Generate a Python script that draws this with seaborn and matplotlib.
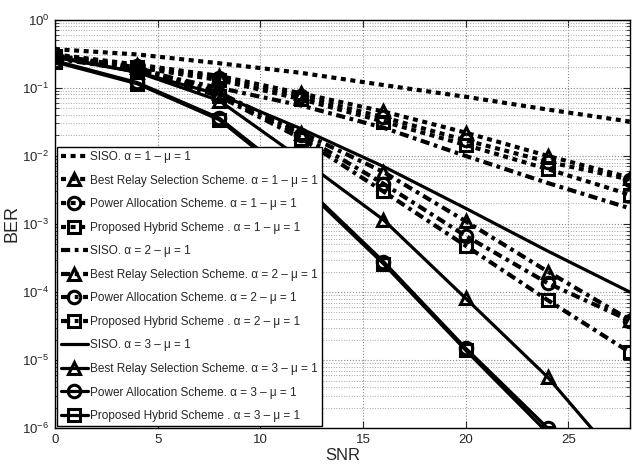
import numpy as np
import pandas as pd
import matplotlib
matplotlib.use("Agg")
import matplotlib.pyplot as plt
import seaborn as sns

snr = [0, 4, 8, 12, 16, 20, 24, 28]

# alpha = 1
siso_a1 = [0.37, 0.31, 0.23, 0.166, 0.11, 0.074, 0.048, 0.032]
brs_a1 = [0.31, 0.22, 0.15, 0.083, 0.045, 0.022, 0.0100, 0.0048]
pa_a1 = [0.30, 0.21, 0.14, 0.075, 0.037, 0.017, 0.0082, 0.0045]
ph_a1 = [0.29, 0.20, 0.13, 0.068, 0.032, 0.0145, 0.0064, 0.0027]

# alpha = 2
siso_a2 = [0.27, 0.18, 0.10, 0.055, 0.026, 0.010, 0.0040, 0.0017]
brs_a2 = [0.30, 0.20, 0.085, 0.022, 5.8e-3, 1.1e-3, 2.0e-4, 3.9e-5]
pa_a2 = [0.29, 0.19, 0.080, 0.020, 3.9e-3, 6.7e-4, 1.35e-4, 3.8e-5]
ph_a2 = [0.28, 0.18, 0.075, 0.018, 3.0e-3, 4.8e-4, 7.6e-5, 1.3e-5]

# alpha = 3
siso_a3 = [0.28, 0.17, 0.080, 0.025, 7.0e-3, 1.7e-3, 4.0e-4, 1.0e-4]
brs_a3 = [0.29, 0.17, 0.065, 0.009, 1.15e-3, 8.1e-5, 5.6e-6, 2.2e-7]
pa_a3 = [0.25, 0.12, 0.036, 4.0e-3, 2.8e-4, 1.5e-5, 1.0e-6]
ph_a3 = [0.24, 0.115, 0.034, 3.7e-3, 2.6e-4, 1.4e-5, 8.5e-7]

labels = [
    "SISO. α = 1 – μ = 1",
    "Best Relay Selection Scheme. α = 1 – μ = 1",
    "Power Allocation Scheme. α = 1 – μ = 1",
    "Proposed Hybrid Scheme . α = 1 – μ = 1",
    "SISO. α = 2 – μ = 1",
    "Best Relay Selection Scheme. α = 2 – μ = 1",
    "Power Allocation Scheme. α = 2 – μ = 1",
    "Proposed Hybrid Scheme . α = 2 – μ = 1",
    "SISO. α = 3 – μ = 1",
    "Best Relay Selection Scheme. α = 3 – μ = 1",
    "Power Allocation Scheme. α = 3 – μ = 1",
    "Proposed Hybrid Scheme . α = 3 – μ = 1",
]
series = [siso_a1, brs_a1, pa_a1, ph_a1,
          siso_a2, brs_a2, pa_a2, ph_a2,
          siso_a3, brs_a3, pa_a3, ph_a3]

sns.set_theme(style="ticks")
plt.rcParams["font.family"] = ["Liberation Sans", "DejaVu Sans"]
plt.rcParams["mathtext.default"] = "regular"

dotted = (0, (1.2, 1.1))
dashdot = (0, (2.2, 1.1, 0.9, 1.1))
solid = "-"
styles = [dotted] * 4 + [dashdot] * 4 + [solid] * 4
widths = [3.0] * 8 + [2.3] * 4
markers = [None, "^", "o", "s"] * 3

fig = plt.figure(figsize=(6.43, 4.72), dpi=100)
ax = fig.add_axes([0.0855, 0.093, 0.894, 0.865])

for lab, vals, ls, lw, mk in zip(labels, series, styles, widths, markers):
    x = snr[:len(vals)]
    kw = dict(color="black", linestyle=ls, linewidth=lw, label=lab)
    if mk is not None:
        kw.update(marker=mk, markersize=9, markerfacecolor="none",
                  markeredgecolor="black", markeredgewidth=2.2)
    sns.lineplot(x=x, y=vals, ax=ax, **kw)

ax.set_yscale("log")
ax.set_xlim(0, 28)
ax.set_ylim(1e-6, 1)
ax.set_xticks([0, 5, 10, 15, 20, 25])
ax.set_yticks([1e-6, 1e-5, 1e-4, 1e-3, 1e-2, 1e-1, 1e0])

ax.grid(True, which="major", linestyle=":", color="0.55", linewidth=0.8)
ax.grid(True, which="minor", axis="y", linestyle=":", color="0.65", linewidth=0.7)
ax.tick_params(which="both", direction="in", top=True, right=True)
ax.tick_params(which="major", length=5, width=0.8, labelsize=9.5, pad=4)
ax.tick_params(which="minor", length=3, width=0.6)
for s in ax.spines.values():
    s.set_color("black")
    s.set_linewidth(1.0)

ax.set_xlabel("SNR", fontsize=12, labelpad=2)
ax.set_ylabel("BER", fontsize=13, labelpad=1)

leg = ax.legend(loc="lower left", fontsize=8.5, frameon=True, fancybox=False,
                framealpha=1, edgecolor="black", borderaxespad=0.15,
                handlelength=2.3, handletextpad=0.2, labelspacing=0.98,
                borderpad=0.35)
leg.get_frame().set_linewidth(1.0)

fig.savefig("out.png", dpi=100)
